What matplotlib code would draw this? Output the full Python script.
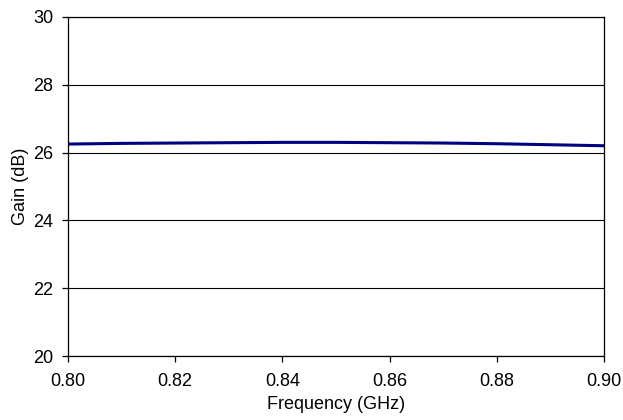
import numpy as np
import matplotlib
matplotlib.use('Agg')
import matplotlib.pyplot as plt

plt.rcParams['font.family'] = ['Liberation Sans', 'DejaVu Sans']

# frequency sweep (GHz) and measured gain (dB)
freq = [0.80, 0.81, 0.82, 0.83, 0.84, 0.85, 0.86, 0.87, 0.88, 0.89, 0.90]
gain = [26.25, 26.27, 26.28, 26.29, 26.30, 26.30, 26.29, 26.28, 26.26, 26.23, 26.20]

xticks = [0.80, 0.82, 0.84, 0.86, 0.88, 0.90]
yticks = [20, 22, 24, 26, 28, 30]

fig = plt.figure(figsize=(6.23, 4.2), dpi=100)
ax = fig.add_axes([0.109, 0.152, 0.861, 0.808])

ax.plot(freq, gain, color='#000080', linewidth=2.2)

ax.set_xlim(0.80, 0.90)
ax.set_ylim(20, 30)
ax.set_xticks(xticks)
ax.set_xticklabels(['%.2f' % v for v in xticks])
ax.set_yticks(yticks)
ax.yaxis.grid(True, color='black', linewidth=0.8)
ax.set_axisbelow(True)
for s in ax.spines.values():
    s.set_linewidth(0.9)
ax.tick_params(direction='out', length=4.3, width=0.9, labelsize=13)
ax.tick_params(axis='x', pad=8)
ax.tick_params(axis='y', pad=6)

ax.set_xlabel('Frequency (GHz)', fontsize=13, labelpad=4)
ax.set_ylabel('Gain (dB)', fontsize=13, labelpad=3)

fig.savefig('out.png', dpi=100)
